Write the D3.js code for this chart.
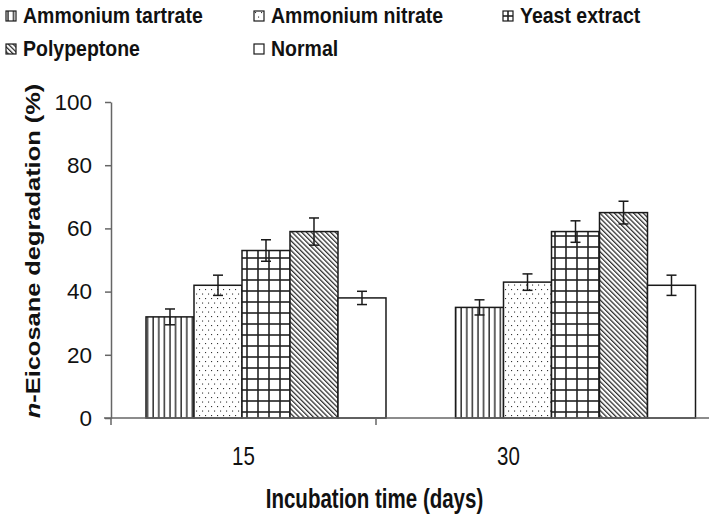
<!DOCTYPE html>
<html>
<head>
<meta charset="utf-8">
<script src="https://cdn.jsdelivr.net/npm/d3@7"></script>
<style>
  body { margin: 0; background: #fff; }
  svg { display: block; font-family: "Liberation Sans", Arial, sans-serif; }
</style>
</head>
<body>
<div id="chart"></div>
<script>
// data
const days = ["15", "30"];
const media = ["Ammonium tartrate", "Ammonium nitrate", "Yeast extract", "Polypeptone", "Normal"];
const means15 = [32, 42, 53, 59, 38];
const errs15 = [2.5, 3.2, 3.4, 4.3, 2.1];
const means30 = [35, 43, 59, 65, 42];
const errs30 = [2.4, 2.6, 3.4, 3.6, 3.2];
const yTicks = [0, 20, 40, 60, 80, 100];
const fills = ["url(#vlines)", "url(#dots)", "url(#grid)", "url(#diag)", "#fff"];

const width = 709, height = 518;

const svg = d3.select("#chart").append("svg")
    .attr("width", width)
    .attr("height", height);

// fill patterns
const defs = svg.append("defs");
let p = defs.append("pattern").attr("id", "vlines")
    .attr("patternUnits", "userSpaceOnUse").attr("width", 5.6).attr("height", 10);
p.append("rect").attr("width", 5.6).attr("height", 10).attr("fill", "#fff");
p.append("line").attr("x1", 2).attr("x2", 2).attr("y1", 0).attr("y2", 10)
    .attr("stroke", "#222").attr("stroke-width", 1.4);

p = defs.append("pattern").attr("id", "dots")
    .attr("patternUnits", "userSpaceOnUse").attr("width", 6).attr("height", 9);
p.append("rect").attr("width", 6).attr("height", 9).attr("fill", "#fff");
p.append("rect").attr("x", 1).attr("y", 1).attr("width", 1.1).attr("height", 1.1).attr("fill", "#333");
p.append("rect").attr("x", 4).attr("y", 5.5).attr("width", 1.1).attr("height", 1.1).attr("fill", "#333");

p = defs.append("pattern").attr("id", "grid")
    .attr("patternUnits", "userSpaceOnUse").attr("width", 11).attr("height", 11);
p.append("rect").attr("width", 11).attr("height", 11).attr("fill", "#fff");
p.append("line").attr("x1", 5).attr("x2", 5).attr("y1", 0).attr("y2", 11)
    .attr("stroke", "#222").attr("stroke-width", 1.6);
p.append("line").attr("x1", 0).attr("x2", 11).attr("y1", 5).attr("y2", 5)
    .attr("stroke", "#222").attr("stroke-width", 1.6);

p = defs.append("pattern").attr("id", "diag")
    .attr("patternUnits", "userSpaceOnUse").attr("width", 3.4).attr("height", 10)
    .attr("patternTransform", "rotate(-45)");
p.append("rect").attr("width", 3.4).attr("height", 10).attr("fill", "#fff");
p.append("line").attr("x1", 1.5).attr("x2", 1.5).attr("y1", 0).attr("y2", 10)
    .attr("stroke", "#222").attr("stroke-width", 1.2);

// scales
const y = d3.scaleLinear().domain([0, 100]).range([418, 102]);

// axis categories (ticks between groups)
const xAxisScale = d3.scaleBand().domain(days).range([111, 641]);

// bar groups sit a little to the right of the axis categories in the picture
const x0 = d3.scaleBand().domain(days).range([146, 695.5]).paddingInner(0.2246);
const x1 = d3.scaleBand().domain(media).range([0, x0.bandwidth()]);

const rows = [];
days.forEach((d, i) => {
    const m = i === 0 ? means15 : means30;
    const e = i === 0 ? errs15 : errs30;
    media.forEach((s, j) => rows.push({ day: d, medium: s, idx: j, v: m[j], e: e[j] }));
});

// bars
svg.append("g")
    .selectAll("rect")
    .data(rows)
    .join("rect")
    .attr("x", (d) => x0(d.day) + x1(d.medium))
    .attr("y", (d) => y(d.v))
    .attr("width", x1.bandwidth())
    .attr("height", (d) => y(0) - y(d.v))
    .attr("fill", (d) => fills[d.idx])
    .attr("stroke", "#1a1a1a")
    .attr("stroke-width", 1.5);

// error bars
const eb = svg.append("g").attr("stroke", "#1a1a1a").attr("stroke-width", 1.5);
rows.forEach((d) => {
    const cx = x0(d.day) + x1(d.medium) + x1.bandwidth() / 2;
    eb.append("line").attr("x1", cx).attr("x2", cx).attr("y1", y(d.v + d.e)).attr("y2", y(d.v - d.e));
    eb.append("line").attr("x1", cx - 5).attr("x2", cx + 5).attr("y1", y(d.v + d.e)).attr("y2", y(d.v + d.e));
    eb.append("line").attr("x1", cx - 5).attr("x2", cx + 5).attr("y1", y(d.v - d.e)).attr("y2", y(d.v - d.e));
});

// y axis
const yAxis = svg.append("g")
    .attr("transform", "translate(111,0)")
    .call(d3.axisLeft(y).tickValues(yTicks).tickSize(6).tickSizeOuter(0).tickPadding(13));
yAxis.select(".domain").attr("stroke", "#666").attr("stroke-width", 1.5);
yAxis.selectAll(".tick line").attr("stroke", "#666").attr("stroke-width", 1.5);
yAxis.selectAll(".tick text")
    .attr("fill", "#111")
    .style("font-size", "22.5px")
    .style("font-family", "'Liberation Sans', Arial, sans-serif");

// x axis line across the whole width
svg.append("line")
    .attr("x1", 104).attr("x2", 709)
    .attr("y1", 418).attr("y2", 418)
    .attr("stroke", "#666").attr("stroke-width", 1.5);

// category boundary ticks
svg.append("g")
    .selectAll("line")
    .data(days)
    .join("line")
    .attr("x1", (d) => xAxisScale(d)).attr("x2", (d) => xAxisScale(d))
    .attr("y1", 418).attr("y2", 425)
    .attr("stroke", "#666").attr("stroke-width", 1.5);

// category labels
svg.append("g")
    .selectAll("text")
    .data(days)
    .join("text")
    .attr("transform", (d) => `translate(${xAxisScale(d) + xAxisScale.bandwidth() / 2},465) scale(1,1.22)`)
    .attr("text-anchor", "middle")
    .style("font-size", "20.5px")
    .attr("fill", "#111")
    .text((d) => d);

// axis titles
svg.append("text")
    .attr("transform", "translate(374.5,508) scale(1,1.35)")
    .attr("text-anchor", "middle")
    .style("font-size", "20.5px")
    .style("font-weight", "bold")
    .attr("fill", "#111")
    .text("Incubation time (days)");

const yt = svg.append("text")
    .attr("transform", "translate(39.5,251) scale(1,1.27) rotate(-90)")
    .attr("text-anchor", "middle")
    .style("font-size", "20px")
    .style("font-weight", "bold")
    .attr("fill", "#111");
yt.append("tspan").style("font-style", "italic").text("n");
yt.append("tspan").text("-Eicosane degradation (%)");

// legend
const legendPos = [[6, 11], [254, 11], [503, 11], [6, 44], [254, 44]];
const legend = svg.append("g")
    .selectAll("g")
    .data(media)
    .join("g")
    .attr("transform", (d, i) => `translate(${legendPos[i][0]},${legendPos[i][1]})`);
legend.append("rect")
    .attr("width", 10).attr("height", 10)
    .attr("fill", (d, i) => fills[i])
    .attr("stroke", "#1a1a1a").attr("stroke-width", 1.2);
legend.append("text")
    .attr("transform", "translate(17,12) scale(1,1.1)")
    .style("font-size", "19.5px")
    .style("font-weight", "bold")
    .attr("fill", "#111")
    .text((d) => d);
</script>
</body>
</html>
